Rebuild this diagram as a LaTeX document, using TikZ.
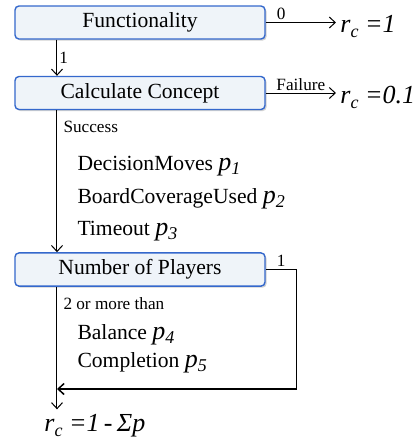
\documentclass[tikz,border=0pt]{standalone}
\usepackage{fontspec}
\setmainfont{Liberation Serif}
\newfontfamily\tnr{Liberation Serif}
\usepackage{tikz}
\usetikzlibrary{positioning, shadows, arrows.meta}

\definecolor{boxline}{RGB}{52,104,204}
\definecolor{boxfill}{RGB}{239,244,249}

\newcommand{\pv}[1]{{\fontsize{13}{13}\selectfont\itshape p}\raisebox{-0.45ex}{\fontsize{9}{9}\selectfont\itshape #1}}
\newcommand{\rcv}{{\itshape r}\raisebox{-0.45ex}{\fontsize{9}{9}\selectfont\itshape c}}

\begin{document}
\begin{tikzpicture}[x=0.5pt, y=-0.5pt, font=\tnr\fontsize{10.8}{13}\selectfont,
    >={Straight Barb[length=3pt, width=5.5pt]}, line width=0.5pt,
    box/.style={draw=boxline, fill=boxfill, rounded corners=2pt, line width=0.7pt,
      minimum width=125pt, minimum height=16.5pt,
      drop shadow={shadow xshift=0.8pt, shadow yshift=-0.8pt, fill=black, opacity=0.18}},
    lbl/.style={font=\tnr\fontsize{8.6}{10}\selectfont, inner sep=1pt},
    item/.style={anchor=base west, inner sep=1pt},
    res/.style={font=\tnr\fontsize{13}{15}\selectfont\itshape, inner sep=2pt}]
      \useasboundingbox (0,0) rectangle (417,441);

      \node[box]  (F)  at (140, 22.5)  {Functionality};
      \node[box]  (C)  at (140, 93.0)  {Calculate Concept};
      \node[box]  (N)  at (140, 269.5) {Number of Players};

      \coordinate (spine) at (57, 0);
      \coordinate (J)     at (57, 389);

      \node[res, anchor=base west]  (R1) at (336, 32)  {\rcv\ =1};
      \node[res, anchor=base west]  (R2) at (336, 103) {\rcv\ =0.1};
      \node[res, anchor=base west]  (R3) at (40, 431)  {\rcv\ =1\,-\,Σp};

      \node[lbl, anchor=north west]  (S) at (61, 119)  {Success};
      \node[item]  (D1) at (75, 170)  {DecisionMoves \pv{1}};
      \node[item]  (D2) at (75, 203)  {BoardCoverageUsed \pv{2}};
      \node[item]  (D3) at (75, 235)  {Timeout \pv{3}};

      \node[lbl, anchor=north west]  (M) at (61, 295)  {2 or more than};
      \node[item]  (B1) at (75, 339)  {Balance \pv{4}};
      \node[item]  (B2) at (75, 367)  {Completion \pv{5}};

      \draw[->] (F.east) -- node[lbl, above, pos=0.22] {0} (F.east -| R1.west);
      \draw[->] (C.east) -- node[lbl, above] {Failure} (C.east -| R2.west);

      \draw[->] (F.south -| spine) -- node[lbl, right] {1} (C.north -| spine);
      \draw[->] (C.south -| spine) -- (N.north -| spine);
      \draw[->] (N.south -| spine) -- (R3.north -| spine);

      \draw[->, line width=0.75pt] (N.east) -- node[lbl, above] {1} ++(31, 0) |- (J);
    \end{tikzpicture}
\end{document}
